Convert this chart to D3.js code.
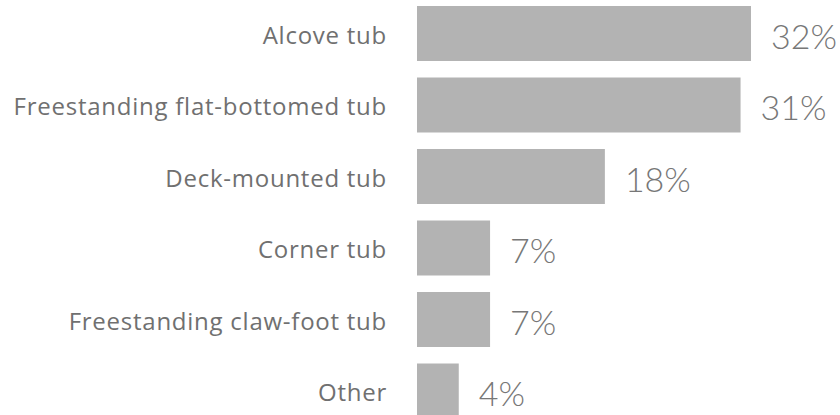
<!DOCTYPE html>
<html>
<head>
<meta charset="utf-8">
<script src="https://cdn.jsdelivr.net/npm/d3@7/dist/d3.min.js"></script>
<style>
  body { margin: 0; background: #fff; }
</style>
</head>
<body>
<div class="canvas"></div>
<script>
// DATA ------------------------------------------------------------------------
const categories = ['Alcove tub', 'Freestanding flat-bottomed tub', 'Deck-mounted tub',
    'Corner tub', 'Freestanding claw-foot tub', 'Other'];
const shares = [32, 31, 18, 7, 7, 4];
const valueLabels = ['32%', '31%', '18%', '7%', '7%', '4%'];

// SET UP GRAPH ----------------------------------------------------------------
const width = 840, height = 415;
const svg = d3.select('.canvas')
    .append('svg')
        .attr('width', width)
        .attr('height', height);

const barLeft = 417;

const x = d3.scaleLinear()
    .domain([0, 32])
    .range([0, 334]);

// step 71.5, bar 55 tall, last bar runs off the bottom edge
const y = d3.scaleBand()
    .domain(categories)
    .range([6, 6 + 71.5 * 5 + 55])
    .paddingInner(16.5 / 71.5)
    .paddingOuter(0);

const graph = svg.append('g')
    .attr('transform', `translate(${barLeft}, 0)`);

const rows = categories.map((c, i) => ({ name: c, value: shares[i], label: valueLabels[i] }));

// Bars
graph.selectAll('rect')
    .data(rows)
    .enter()
    .append('rect')
    .attr('x', 0)
    .attr('y', d => y(d.name))
    .attr('width', d => x(d.value))
    .attr('height', y.bandwidth())
    .attr('fill', '#b3b3b3');

// Category labels
graph.selectAll('text.cat')
    .data(rows)
    .enter()
    .append('text')
    .attr('class', 'cat')
    .attr('x', -30)
    .attr('y', d => y(d.name) + y.bandwidth() / 2 + 2)
    .attr('dy', '0.35em')
    .attr('text-anchor', 'end')
    .attr('fill', '#707070')
    .style('font', '24px "Open Sans", Lato, sans-serif')
    .style('letter-spacing', '0.75px')
    .text(d => d.name);

// Value labels
graph.selectAll('text.val')
    .data(rows)
    .enter()
    .append('text')
    .attr('class', 'val')
    .attr('x', d => x(d.value) + 20)
    .attr('y', d => y(d.name) + y.bandwidth() / 2 + 3)
    .attr('dy', '0.36em')
    .attr('fill', '#777777')
    .style('font', '300 34px Lato, "Open Sans", sans-serif')
    .text(d => d.label);
</script>
</body>
</html>
